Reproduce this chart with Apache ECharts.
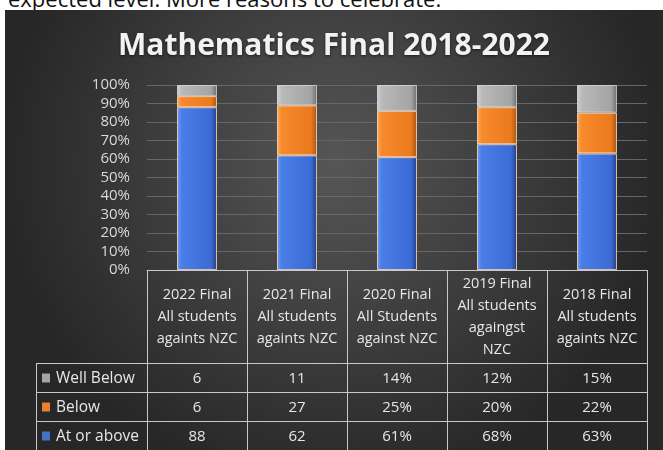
<!DOCTYPE html>
<html>
<head>
<meta charset="utf-8">
<script src="https://cdn.jsdelivr.net/npm/echarts@6/dist/echarts.min.js"></script>
<style>
html, body { margin: 0; padding: 0; background: #fff; overflow: hidden; }
#above { position: absolute; left: 8px; top: -13px; font: 22px/22px "Open Sans", sans-serif; color: #111; white-space: nowrap; }
#main { position: absolute; left: 5px; top: 10px; width: 658px; height: 440px; }
</style>
</head>
<body>
<div id="above">expected level. More reasons to celebrate.</div>
<div id="main"></div>
<script>
// 数据
var categories = [
    '2022 Final\nAll students\nagaints NZC',
    '2021 Final\nAll students\nagaints NZC',
    '2020 Final\nAll Students\nagainst NZC',
    '2019 Final\nAll students\nagaingst\nNZC',
    '2018 Final\nAll students\nagaints NZC'
];
var seriesNames = ['Well Below', 'Below', 'At or above'];
var wellBelow = [6, 11, 14, 12, 15];
var below = [6, 27, 25, 20, 22];
var atOrAbove = [88, 62, 61, 68, 63];
// 表格里前两列没有 %
var cellSuffix = ['', '', '%', '%', '%'];

var FONT = '"Open Sans", sans-serif';
var legendColors = ['#a5a5a5', '#ed7d31', '#4472c4'];

// 立体感的横向渐变
function barGrad(c0, c1, c2, c3) {
    return new echarts.graphic.LinearGradient(0, 0, 1, 0, [
        {offset: 0, color: c0},
        {offset: 0.12, color: c1},
        {offset: 0.85, color: c2},
        {offset: 1, color: c3}
    ]);
}

var chartDom = document.getElementById('main');
var myChart = echarts.init(chartDom);

var option = {
    backgroundColor: new echarts.graphic.RadialGradient(0.5, 0.35, 0.75, [
        {offset: 0, color: '#565656'},
        {offset: 1, color: '#272727'}
    ]),
    animation: false,
    title: {
        text: 'Mathematics Final 2018-2022',
        left: 'center',
        top: 16,
        textStyle: {
            color: '#f2f2f2',
            fontFamily: FONT,
            fontSize: 30,
            fontWeight: 'bold',
            textShadowColor: 'rgba(0,0,0,0.6)',
            textShadowBlur: 3,
            textShadowOffsetY: 1
        }
    },
    grid: {
        left: 142,
        right: 16,
        top: 75,
        bottom: 180
    },
    xAxis: {
        type: 'category',
        data: categories,
        axisLine: {lineStyle: {color: '#c8c8c8', width: 1}},
        axisTick: {show: true, length: 180, lineStyle: {color: '#c8c8c8'}},
        axisLabel: {
            interval: 0,
            margin: 47,
            verticalAlign: 'middle',
            color: '#e6e6e6',
            fontFamily: FONT,
            fontSize: 14.5,
            lineHeight: 22
        }
    },
    yAxis: {
        type: 'value',
        min: 0,
        max: 100,
        interval: 10,
        axisLine: {show: false},
        axisTick: {show: false},
        splitLine: {lineStyle: {color: '#676767', width: 1}},
        axisLabel: {
            formatter: '{value}%',
            margin: 17,
            color: '#d9d9d9',
            fontFamily: FONT,
            fontSize: 15
        }
    },
    series: [
        {
            name: seriesNames[2],
            type: 'bar',
            stack: 'all',
            barWidth: 40,
            data: atOrAbove,
            itemStyle: {
                color: barGrad('#6f9cf2', '#4a7ee6', '#3b6bd6', '#233f86'),
                borderColor: 'rgba(255,220,190,0.55)',
                borderWidth: 1
            }
        },
        {
            name: seriesNames[1],
            type: 'bar',
            stack: 'all',
            barWidth: 40,
            data: below,
            itemStyle: {
                color: barGrad('#fbab62', '#f68a2c', '#ec7a1f', '#a85510'),
                borderColor: 'rgba(255,220,190,0.55)',
                borderWidth: 1
            }
        },
        {
            name: seriesNames[0],
            type: 'bar',
            stack: 'all',
            barWidth: 40,
            data: wellBelow,
            itemStyle: {
                color: barGrad('#d2d2d2', '#b9b9b9', '#a4a4a4', '#6e6e6e'),
                borderColor: 'rgba(255,255,255,0.35)',
                borderWidth: 1
            }
        }
    ]
};
myChart.setOption(option);

// 下方数据表
function buildTable() {
    var rows = [wellBelow, below, atOrAbove];
    var x0 = myChart.convertToPixel({xAxisIndex: 0}, 0);
    var x1 = myChart.convertToPixel({xAxisIndex: 0}, 1);
    var band = x1 - x0;
    var left = x0 - band / 2;
    var right = left + band * categories.length;
    var axisY = myChart.convertToPixel({yAxisIndex: 0}, 0);
    var headH = 93;
    var rowH = 29;
    var legLeft = 31;
    var els = [];
    var lineStyle = {stroke: '#c8c8c8', lineWidth: 1};

    for (var r = 0; r <= rows.length; r++) {
        var y = Math.round(axisY + headH + r * rowH) + 0.5;
        els.push({type: 'line', shape: {x1: legLeft, y1: y, x2: right, y2: y}, style: lineStyle, silent: true});
    }
    els.push({type: 'line', shape: {x1: legLeft + 0.5, y1: axisY + headH, x2: legLeft + 0.5, y2: axisY + headH + rows.length * rowH}, style: lineStyle, silent: true});

    rows.forEach(function (vals, r) {
        var cy = axisY + headH + r * rowH + rowH / 2 + 1;
        els.push({
            type: 'rect',
            shape: {x: legLeft + 6, y: cy - 5, width: 8, height: 9},
            style: {fill: legendColors[r]},
            silent: true
        });
        els.push({
            type: 'text',
            x: legLeft + 20, y: cy,
            style: {text: seriesNames[r], fill: '#e6e6e6', font: '15.5px ' + FONT, verticalAlign: 'middle', align: 'left'},
            silent: true
        });
        vals.forEach(function (v, i) {
            els.push({
                type: 'text',
                x: myChart.convertToPixel({xAxisIndex: 0}, i), y: cy,
                style: {text: v + cellSuffix[i], fill: '#e6e6e6', font: '15px ' + FONT, align: 'center', verticalAlign: 'middle'},
                silent: true
            });
        });
    });
    myChart.setOption({graphic: els});
}
buildTable();
</script>
</body>
</html>
